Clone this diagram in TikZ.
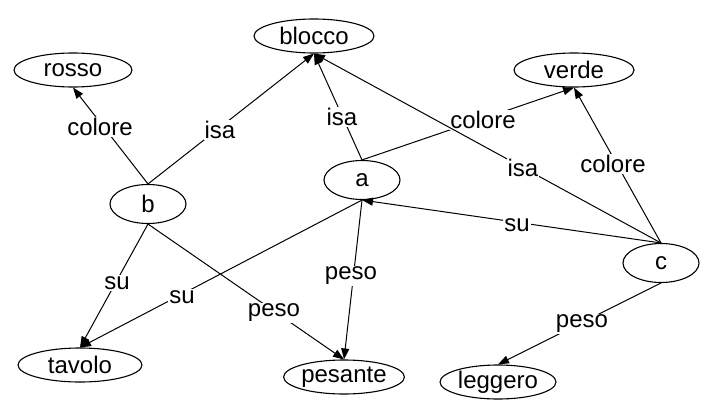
\documentclass[tikz,border=0pt]{standalone}
\usepackage{fontspec}
\setmainfont{Liberation Sans}
\usetikzlibrary{shapes.geometric, arrows.meta}
\tikzset{
  concept/.style = {ellipse, draw, line width=1.1pt, inner sep=0pt, minimum height=34pt, font=\fontsize{24}{28}\selectfont},
  object/.style = {concept, minimum width=76pt, minimum height=39pt},
  lbl/.style = {fill=white, inner sep=1pt, font=\fontsize{24}{28}\selectfont},
  arrow/.style = {line width=1pt, -{Triangle[length=11pt, width=8pt]}}
}
\begin{document}
\begin{tikzpicture}[x=1pt, y=-1pt]
    \useasboundingbox (0,0) rectangle (712,415);

    % Top row: classes and colours
    \node[concept, minimum width=120pt] (blocco) at (314,36) {blocco};
    \node[concept, minimum width=118pt] (rosso) at (73,70) {rosso};
    \node[concept, minimum width=120pt] (verde) at (574,70) {verde};

    % Middle: the three objects
    \node[object] (b) at (148,204) {b};
    \node[object] (a) at (362,180) {a};
    \node[object] (c) at (661,263) {c};

    % Bottom row
    \node[concept, minimum width=124pt] (tavolo) at (80,365) {tavolo};
    \node[concept, minimum width=118pt] (pesante) at (344,377) {pesante};
    \node[concept, minimum width=116pt] (leggero) at (498,382) {leggero};

    % Arrows from b
    \draw[arrow] (b.north) -- (rosso.south) node[lbl] at (100,127) {colore};
    \draw[arrow] (b.north) -- (blocco.south) node[lbl] at (220,130) {isa};
    \draw[arrow] (b.south) -- (tavolo.north) node[lbl] at (117,283) {su};
    \draw[arrow] (b.south) -- (pesante.north) node[lbl] at (274,313) {peso};

    % Arrows from a
    \draw[arrow] (a.north) -- (blocco.south) node[lbl] at (342,117) {isa};
    \draw[arrow] (a.north) -- (verde.south) node[lbl] at (483,120) {colore};
    \draw[arrow] (a.south) -- (tavolo.north) node[lbl] at (182,297) {su};
    \draw[arrow] (a.south) -- (pesante.north) node[lbl] at (351,276) {peso};

    % Arrows from c
    \draw[arrow] (c.north) -- (blocco.south) node[lbl] at (523,168) {isa};
    \draw[arrow] (c.north) -- (verde.south) node[lbl] at (613,164) {colore};
    \draw[arrow] (c.north) -- (a.south) node[lbl] at (517,225) {su};
    \draw[arrow] (c.south) -- (leggero.north) node[lbl] at (582,324) {peso};

\end{tikzpicture}
\end{document}
